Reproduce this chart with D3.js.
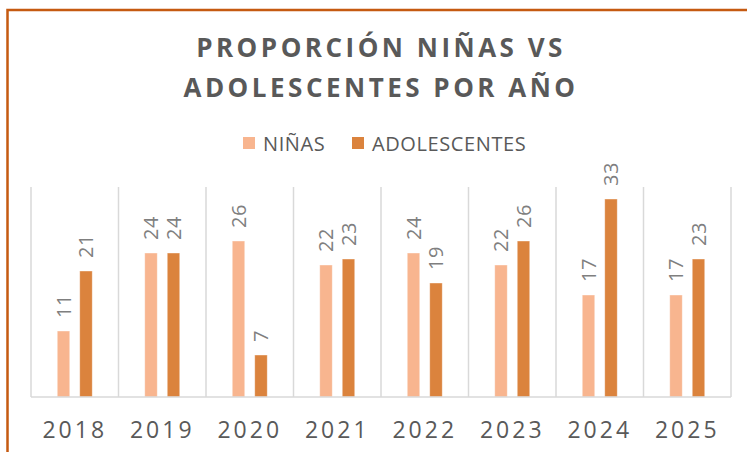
<!DOCTYPE html>
<html>
<head>
<meta charset="utf-8">
<script src="https://cdn.jsdelivr.net/npm/d3@7"></script>
<style>
body { margin: 0; background: #fff; }
svg { display: block; font-family: "Open Sans", sans-serif; }
</style>
</head>
<body>
<div class="content"></div>
<script>
var years = ["2018", "2019", "2020", "2021", "2022", "2023", "2024", "2025"];
var ninas = [11, 24, 26, 22, 24, 22, 17, 17];
var adolescentes = [21, 24, 7, 23, 19, 26, 33, 23];
var seriesNames = ["NIÑAS", "ADOLESCENTES"];
var seriesColors = ["#F8B58F", "#DB833D"];
var titleLines = ["PROPORCIÓN NIÑAS VS", "ADOLESCENTES POR AÑO"];

var width = 747, height = 452;
var plotLeft = 31, plotRight = 731, plotTop = 187, plotBottom = 397;

var svg = d3.select(".content").append("svg").attr("width", width).attr("height", height);

// marco naranja (solo arriba e izquierda se ven)
svg.append("path").attr("d", "M7.5," + height + "L7.5,10L" + width + ",10")
	.attr("stroke", "#C55A11").attr("stroke-width", 2.5).attr("fill", "none");

// titulo
svg.selectAll(".title").data(titleLines).enter().append("text")
	.attr("x", 381).attr("y", function(d, i){ return 57 + i * 40; })
	.attr("text-anchor", "middle").attr("font-size", 26).attr("font-weight", "bold")
	.attr("letter-spacing", 3.5).attr("fill", "#595959")
	.text(function(d){ return d; });

var x0 = d3.scaleBand().domain(years).range([plotLeft, plotRight]).padding(0);
var x1 = d3.scaleBand().domain(seriesNames).range([-17.5, 17.5]).paddingInner(0.444);
var y = d3.scaleLinear().domain([0, 35]).range([plotBottom, plotTop]);

// lineas de separacion
svg.selectAll(".grid").data(d3.range(years.length + 1)).enter().append("line")
	.attr("x1", function(i){ return plotLeft + i * x0.step(); })
	.attr("x2", function(i){ return plotLeft + i * x0.step(); })
	.attr("y1", plotTop).attr("y2", plotBottom)
	.attr("stroke", "#D9D9D9").attr("stroke-width", 1.5);

var rows = [];
years.forEach(function(yr, i){
	rows.push({year: yr, s: 0, v: ninas[i]});
	rows.push({year: yr, s: 1, v: adolescentes[i]});
});

function cx(d){ return x0(d.year) + x0.bandwidth() / 2 + x1(seriesNames[d.s]); }

svg.selectAll(".bar").data(rows).enter().append("rect")
	.attr("x", cx).attr("width", x1.bandwidth())
	.attr("y", function(d){ return y(d.v); })
	.attr("height", function(d){ return y(0) - y(d.v); })
	.attr("fill", function(d){ return seriesColors[d.s]; })
	.attr("stroke", "#fff").attr("stroke-opacity", 0.5).attr("stroke-width", 0.8);

svg.selectAll(".lbl").data(rows).enter().append("text")
	.attr("transform", function(d){
		return "translate(" + (cx(d) + x1.bandwidth() / 2) + "," + (y(d.v) - 13) + ") rotate(-90)";
	})
	.attr("dy", "0.36em").attr("font-size", 20).attr("letter-spacing", 0.6)
	.attr("fill", "#7F7F7F").text(function(d){ return d.v; });

// eje x
svg.append("line").attr("x1", plotLeft).attr("x2", plotRight).attr("y1", plotBottom).attr("y2", plotBottom)
	.attr("stroke", "#D9D9D9").attr("stroke-width", 1.5);

var xAxis = svg.append("g").attr("transform", "translate(0," + plotBottom + ")")
	.call(d3.axisBottom(x0).tickSize(0).tickPadding(0));
xAxis.select(".domain").remove();
xAxis.selectAll("text").attr("y", 41).attr("dy", 0).attr("dx", 0)
	.attr("font-size", 23).attr("letter-spacing", 3)
	.attr("font-family", "Open Sans, sans-serif").attr("fill", "#595959");

// leyenda
var legendX = [243, 352];
var lg = svg.selectAll(".lg").data(seriesNames).enter().append("g")
	.attr("transform", function(d, i){ return "translate(" + legendX[i] + ",137)"; });
lg.append("rect").attr("width", 12).attr("height", 12)
	.attr("fill", function(d, i){ return seriesColors[i]; });
lg.append("text").attr("x", 20).attr("y", 14).attr("font-size", 20).attr("letter-spacing", 0.6)
	.attr("fill", "#595959").text(function(d){ return d; });
</script>
</body>
</html>
